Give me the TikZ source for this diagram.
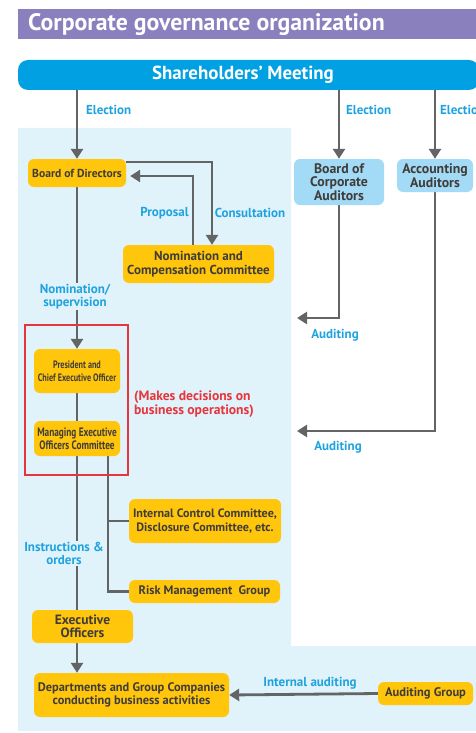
\documentclass[tikz,border=0pt]{standalone}
\usepackage{fontspec}
\setmainfont{PT Sans}
\newfontfamily\condA{PT Sans}[FakeStretch=0.9]
\newfontfamily\condB{PT Sans}[FakeStretch=0.76]
\usetikzlibrary{arrows.meta,calc}
\definecolor{purp}{HTML}{8A80BD}
\definecolor{sblue}{HTML}{00A0E2}
\definecolor{ylw}{HTML}{FFC60B}
\definecolor{lblue}{HTML}{A3DAF5}
\definecolor{bgblue}{HTML}{E0F2FA}
\definecolor{gry}{HTML}{636466}
\definecolor{txt}{HTML}{3F3C3A}
\definecolor{cyanlbl}{HTML}{1FA3DF}
\definecolor{redc}{HTML}{E8343C}
\pgfdeclarelayer{back}\pgfdeclarelayer{lines}\pgfsetlayers{back,lines,main}
\begin{document}
\begin{tikzpicture}[x=1pt,y=-1pt,
  box/.style={rounded corners=6pt, fill=ylw, text=txt, inner sep=0pt, align=center},
  abox/.style={rounded corners=6pt, fill=lblue, text=txt, inner sep=0pt, align=center,
    font=\bfseries\fontsize{13.8}{13.5}\selectfont},
  lbl/.style={text=cyanlbl, inner sep=1pt, align=center, font=\bfseries\fontsize{13}{13.5}\selectfont},
  arr/.style={draw=gry, line width=2.8pt, -{Triangle[width=12pt,length=10pt]}},
  ln/.style={draw=gry, line width=2.8pt}]
\useasboundingbox (0,0) rectangle (476,733);
\begin{pgfonlayer}{back}
\fill[bgblue] (18,128) -- (291,128) -- (291,646) -- (480,646) -- (480,731) -- (18,731) -- cycle;
\end{pgfonlayer}
% title
\fill[purp] (18,9) rectangle (480,39);
\node[anchor=west, text=white, inner sep=0pt, font=\bfseries\fontsize{23.8}{26}\selectfont] (title) at (28,24.5) {Corporate governance organization};
% shareholders
\fill[sblue, rounded corners=10pt] (18,60) rectangle (479,90);
\node[text=white, inner sep=0pt, minimum height=30pt, font=\bfseries\fontsize{18.9}{20}\selectfont] (sm) at (243,75) {Shareholders’ Meeting};
% boxes
\node[box, minimum width=98pt, minimum height=28pt, font=\bfseries\fontsize{11.6}{13}\selectfont] (bod) at (77,173) {Board of Directors};
\node[box, minimum width=151pt, minimum height=38pt, font=\bfseries\fontsize{13}{13.5}\selectfont] (ncc) at (198.5,264) {Nomination and\\Compensation Committee};
\node[box, minimum width=86pt, minimum height=44pt, font=\condB\bfseries\fontsize{10.7}{13}\selectfont] (pres) at (77,371) {President and\\Chief Executive Officer};
\node[box, minimum width=86pt, minimum height=35pt, font=\condB\bfseries\fontsize{12.2}{13}\selectfont] (meoc) at (77,438.5) {Managing Executive\\Officers Committee};
\node[box, minimum width=152pt, minimum height=44pt, font=\bfseries\fontsize{12.1}{13.5}\selectfont] (icc) at (205,521) {Internal Control Committee,\\Disclosure Committee, etc.};
\node[box, minimum width=151pt, minimum height=23pt, font=\bfseries\fontsize{12.3}{13.5}\selectfont] (rmg) at (204.5,591.5) {Risk Management\ \ Group};
\node[box, minimum width=101pt, minimum height=33pt, font=\bfseries\fontsize{13.5}{13.5}\selectfont] (exo) at (82.5,626.5) {Executive\\Officers};
\node[box, minimum width=195pt, minimum height=44pt, font=\bfseries\fontsize{12.4}{13.5}\selectfont] (dept) at (131.5,695) {Departments and Group Companies\\conducting business activities};
\node[box, minimum width=95pt, minimum height=23pt, font=\bfseries\fontsize{12.5}{13}\selectfont] (ag) at (425.5,693.5) {Auditing Group};
\node[abox, minimum width=90pt, minimum height=46pt] (bca) at (339,182) {Board of\\Corporate\\Auditors};
\node[abox, minimum width=76pt, minimum height=33pt] (aa) at (435,175.5) {Accounting\\Auditors};
% red frame
\draw[redc, line width=1.6pt] (25,325) rectangle (128,475);
\node[anchor=north west, text=redc, inner sep=0pt, align=left, font=\bfseries\fontsize{13.6}{13.5}\selectfont] (dec) at (134,391) {(Makes decisions on\\business operations)};
% connectors
\coordinate (audA) at (297,318);
\coordinate (audB) at (297,431);
\coordinate (br) at ([xshift=31pt]meoc.south);
\begin{pgfonlayer}{lines}
\draw[arr] (sm.south -| bod.north) -- (bod.north);
\draw[arr] (sm.south -| bca.north) -- (bca.north);
\draw[arr] (sm.south -| aa.north) -- (aa.north);
\draw[arr] ([yshift=11pt]bod.east) -| ([xshift=13.5pt]ncc.north);
\draw[arr, shorten >=4pt] ([xshift=-5.5pt]ncc.north) |- ([yshift=-3pt]bod.east);
\draw[arr] (bod.south) -- (pres.north);
\draw[ln] (pres.south) -- (meoc.north);
\draw[ln] (meoc.south) -- (meoc.south |- exo.north);
\draw[arr] (meoc.south |- exo.south) -- (meoc.south |- dept.north);
\draw[ln] (br) |- (rmg.west);
\draw[ln] (icc.west) -- (icc.west -| br);
\draw[arr] (bca.south) |- (audA);
\draw[arr] (aa.south) |- (audB);
\draw[arr] (ag.west) -- (dept.east);
\end{pgfonlayer}
% labels
\node[lbl, anchor=west] (el1) at (85,110) {Election};
\node[lbl, anchor=west] (el2) at (345,110) {Election};
\node[lbl, anchor=west] (el3) at (439,110) {Election};
\node[lbl] (prop) at (164.5,213) {Proposal};
\node[lbl] (cons) at (250,213) {Consultation};
\node[lbl, fill=bgblue] (nomsup) at (75,296.5) {Nomination/\\supervision};
\node[lbl, fill=bgblue] (instr) at (64,553.5) {Instructions \&\\orders};
\node[lbl] (aud1) at (335,335) {Auditing};
\node[lbl] (aud2) at (338,447) {Auditing};
\node[lbl] (intaud) at (310,683) {Internal auditing};
\end{tikzpicture}
\end{document}
